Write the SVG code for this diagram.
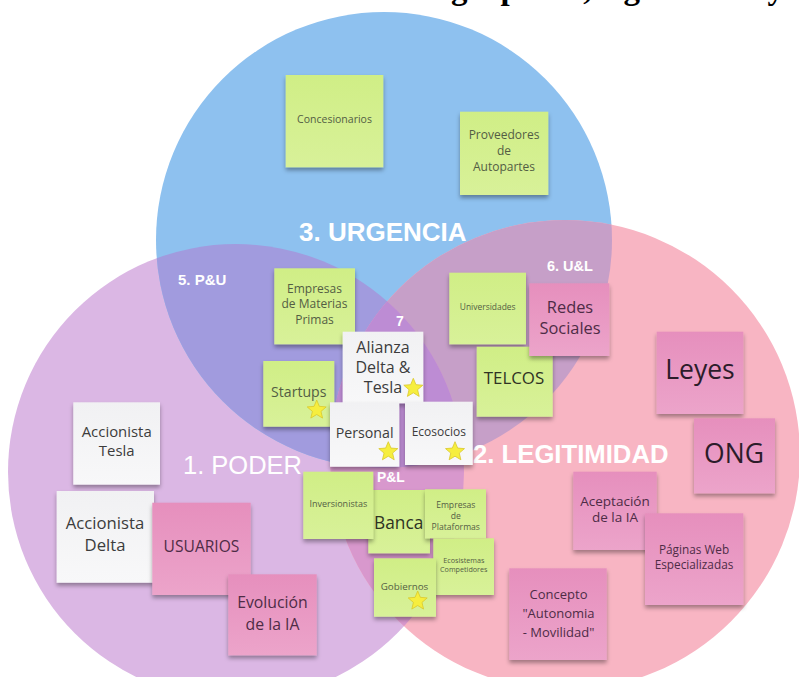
<svg xmlns="http://www.w3.org/2000/svg" width="799" height="677" viewBox="0 0 799 677">
<defs>
<style>
.lbl{font-family:"Liberation Sans",Arial,sans-serif;fill:#fff;font-weight:bold}
.nt{font-family:"Open Sans","Noto Sans",sans-serif;text-anchor:middle}
.g{fill:url(#gGreen)}
.p{fill:url(#gPink)}
.w{fill:url(#gWhite)}
.tg{fill:#535d44}
.tp{fill:#4e2c46}
.tw{fill:#3c3c3c}
.star{fill:#f6ee3e;stroke:#d9c82c;stroke-width:0.8}
</style>
<linearGradient id="gGreen" x1="0" y1="0" x2="0" y2="1"><stop offset="0" stop-color="#d0ee86"/><stop offset="1" stop-color="#d8f199"/></linearGradient>
<linearGradient id="gPink" x1="0" y1="0" x2="0" y2="1"><stop offset="0" stop-color="#e68fbd"/><stop offset="1" stop-color="#eca4ca"/></linearGradient>
<linearGradient id="gWhite" x1="0" y1="0" x2="0" y2="1"><stop offset="0" stop-color="#f1f1f3"/><stop offset="1" stop-color="#f8f8f9"/></linearGradient>
<filter id="sh" x="-10%" y="-10%" width="120%" height="130%">
<feDropShadow dx="0" dy="3" stdDeviation="2" flood-color="#000" flood-opacity="0.35"/>
</filter>
<clipPath id="cBlue"><circle cx="384" cy="240" r="228"/></clipPath>
<clipPath id="cPink"><circle cx="565" cy="455" r="235"/></clipPath>
<path id="star" d="M0,-10 L2.645,-3.641 L9.511,-3.09 L4.28,1.391 L5.878,8.09 L0,4.5 L-5.878,8.09 L-4.28,1.391 L-9.511,-3.09 L-2.645,-3.641 Z"/>
</defs>
<rect width="799" height="677" fill="#fff"/>
<text x="243" y="-1" font-family="Liberation Serif,serif" font-weight="bold" font-size="33" fill="#000">Stakeholders agrupados, legitimidad y urgencia</text>

<g id="circles">
<circle id="poder" cx="236" cy="472" r="228" fill="#dbb7e4"/>
<circle id="urgencia" cx="384" cy="240" r="228" fill="#8ec1ef"/>
<circle id="legitimidad" cx="565" cy="455" r="235" fill="#f8b5c3"/>
<g clip-path="url(#cBlue)"><circle cx="236" cy="472" r="228" fill="#a19bde"/></g>
<g clip-path="url(#cBlue)"><circle cx="565" cy="455" r="235" fill="#c69fc8"/></g>
<g clip-path="url(#cPink)"><circle cx="236" cy="472" r="228" fill="#d898cd"/></g>
<g clip-path="url(#cBlue)"><g clip-path="url(#cPink)"><circle cx="236" cy="472" r="228" fill="#bd8cd4"/></g></g>
</g>

<g id="labels">
<text class="lbl" x="299" y="241" font-size="26">3. URGENCIA</text>
<text class="lbl" x="183" y="474" font-size="25.5" style="font-weight:normal">1. PODER</text>
<text class="lbl" x="473" y="463" font-size="25.7">2. LEGITIMIDAD</text>
<text class="lbl" x="178" y="285" font-size="15">5. P&amp;U</text>
<text class="lbl" x="547" y="271" font-size="14.5">6. U&amp;L</text>
<text class="lbl" x="400" y="326" font-size="14" text-anchor="middle">7</text>
<text class="lbl" x="377" y="482" font-size="13.8">P&amp;L</text>
</g>

<g id="n-concesionarios"><rect class="g" x="285.7" y="75" width="97.6" height="92.3" filter="url(#sh)"/>
<text class="nt tg" x="334.5" y="123" font-size="10.5">Concesionarios</text></g>

<g id="n-proveedores"><rect class="g" x="460" y="111.7" width="88.3" height="83.3" filter="url(#sh)"/>
<text class="nt tg" font-size="12"><tspan x="504" y="139.3">Proveedores</tspan><tspan x="504" y="155">de</tspan><tspan x="504" y="171">Autopartes</tspan></text></g>

<g id="n-materias"><rect class="g" x="274.3" y="268.3" width="80.7" height="76" filter="url(#sh)"/>
<text class="nt tg" font-size="12"><tspan x="314.5" y="292.6">Empresas</tspan><tspan x="314.5" y="308.3">de Materias</tspan><tspan x="314.5" y="324.3">Primas</tspan></text></g>

<g id="n-universidades"><rect class="g" x="449.3" y="272.7" width="76.7" height="71.6" filter="url(#sh)"/>
<text class="nt tg" x="487.7" y="310.3" font-size="8.45">Universidades</text></g>

<g id="n-telcos"><rect class="g" x="476.7" y="346.7" width="76" height="70" filter="url(#sh)"/>
<text class="nt" x="514" y="384.3" font-size="16.9" fill="#2f3324">TELCOS</text></g>

<g id="n-redes"><rect class="p" x="529.3" y="283.3" width="80" height="72.7" filter="url(#sh)"/>
<text class="nt tp" font-size="16.4"><tspan x="570" y="313.2">Redes</tspan><tspan x="570" y="334.2">Sociales</tspan></text></g>

<g id="n-leyes"><rect class="p" x="656.7" y="331.7" width="86.6" height="82.3" filter="url(#sh)"/>
<text class="nt" x="700" y="379" font-size="26.5" fill="#2c1c2a">Leyes</text></g>

<g id="n-ong"><rect class="p" x="694" y="418.3" width="81" height="75" filter="url(#sh)"/>
<text class="nt" x="734" y="463.3" font-size="26.5" fill="#2c1c2a">ONG</text></g>

<g id="n-startups"><rect class="g" x="263.3" y="361" width="71" height="65.7" filter="url(#sh)"/>
<text class="nt tg" x="298.8" y="397.4" font-size="14.1">Startups</text>
<use href="#star" class="star" x="316.7" y="410"/></g>

<g id="n-alianza"><rect class="w" x="342.7" y="331.7" width="80.6" height="71.6" filter="url(#sh)"/>
<text class="nt tw" font-size="16"><tspan x="383" y="352.5">Alianza</tspan><tspan x="383" y="373">Delta &amp;</tspan><tspan x="383" y="393">Tesla</tspan></text>
<use href="#star" class="star" x="413.3" y="388.3"/></g>

<g id="n-personal"><rect class="w" x="330" y="402.3" width="69.3" height="64.4" filter="url(#sh)"/>
<text class="nt tw" x="364.6" y="437.8" font-size="14.2">Personal</text>
<use href="#star" class="star" x="388.3" y="451.7"/></g>

<g id="n-ecosocios"><rect class="w" x="405" y="401.7" width="67.7" height="63.3" filter="url(#sh)"/>
<text class="nt tw" x="438.8" y="436" font-size="12">Ecosocios</text>
<use href="#star" class="star" x="455" y="451.7"/></g>

<g id="n-acc-tesla"><rect class="w" x="73.3" y="402.3" width="86.7" height="82.3" filter="url(#sh)"/>
<text class="nt tw" font-size="14.9"><tspan x="116.7" y="437.1">Accionista</tspan><tspan x="116.7" y="456.4">Tesla</tspan></text></g>

<g id="n-acc-delta"><rect class="w" x="56.7" y="491" width="97.3" height="91.7" filter="url(#sh)"/>
<text class="nt tw" font-size="16.7"><tspan x="105" y="529.3">Accionista</tspan><tspan x="105" y="551">Delta</tspan></text></g>

<g id="n-usuarios"><rect class="p" x="152.3" y="502.7" width="98.4" height="92.3" filter="url(#sh)"/>
<text class="nt tp" x="201.5" y="552.3" font-size="15.6">USUARIOS</text></g>

<g id="n-evolucion"><rect class="p" x="228.3" y="574.3" width="88.4" height="81" filter="url(#sh)"/>
<text class="nt tp" font-size="15.8"><tspan x="272.5" y="608.4">Evolución</tspan><tspan x="272.5" y="629.7">de la IA</tspan></text></g>

<g id="n-banca"><rect class="g" x="368.3" y="490" width="61.7" height="63.3" filter="url(#sh)"/>
<text class="nt" x="398.7" y="528.9" font-size="17.3" fill="#2f3324">Banca</text></g>

<g id="n-inversionistas"><rect class="g" x="303.3" y="471.7" width="70" height="67.3" filter="url(#sh)"/>
<text class="nt tg" x="338.3" y="506.5" font-size="9">Inversionistas</text></g>

<g id="n-plataformas"><rect class="g" x="425" y="489.3" width="61" height="49" filter="url(#sh)"/>
<text class="nt tg" font-size="8.6"><tspan x="455.8" y="508.1">Empresas</tspan><tspan x="455.8" y="519.1">de</tspan><tspan x="455.8" y="530.4">Plataformas</tspan></text></g>

<g id="n-ecosistemas"><rect class="g" x="433.3" y="538.3" width="60.7" height="56.7" filter="url(#sh)"/>
<text class="nt tg" font-size="7.2"><tspan x="463.8" y="563.3">Ecosistemas</tspan><tspan x="463.8" y="571.9">Competidores</tspan></text></g>

<g id="n-gobiernos"><rect class="g" x="374" y="558.3" width="62" height="58.4" filter="url(#sh)"/>
<text class="nt tg" x="404.5" y="589.5" font-size="9.8">Gobiernos</text>
<use href="#star" class="star" x="417.7" y="601"/></g>

<g id="n-aceptacion"><rect class="p" x="573.3" y="471.7" width="83.4" height="78.3" filter="url(#sh)"/>
<text class="nt tp" font-size="13.5"><tspan x="615" y="505.9">Aceptación</tspan><tspan x="615" y="522.2">de la IA</tspan></text></g>

<g id="n-paginas"><rect class="p" x="645" y="513.3" width="98.3" height="91.7" filter="url(#sh)"/>
<text class="nt tp" font-size="11.8"><tspan x="694" y="554">Páginas Web</tspan><tspan x="694" y="569">Especializadas</tspan></text></g>

<g id="n-concepto"><rect class="p" x="509.3" y="568.3" width="97.4" height="91.7" filter="url(#sh)"/>
<text class="nt tp" font-size="13"><tspan x="558.5" y="598.7">Concepto</tspan><tspan x="558.5" y="618">"Autonomia</tspan><tspan x="558.5" y="637">- Movilidad"</tspan></text></g>

<g id="connectors"/>
</svg>
